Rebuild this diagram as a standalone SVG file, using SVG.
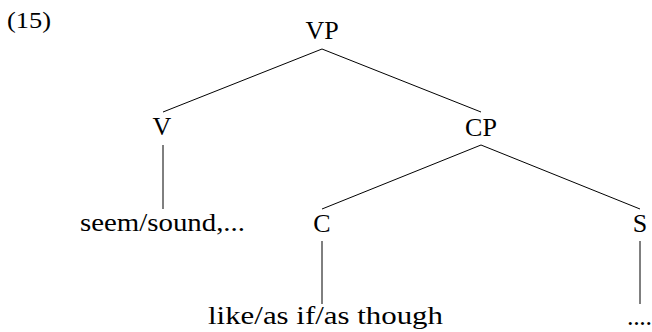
<svg xmlns="http://www.w3.org/2000/svg" width="652" height="332" viewBox="0 0 652 332">
<style>
.t{font-family:'Liberation Serif',serif;font-size:26px;fill:#000;text-anchor:middle}
.e line{stroke:#000;stroke-width:1}
</style>
<rect width="652" height="332" fill="#fff"/>
<g font-family="Liberation Serif, serif">
<text class="t" x="7" y="28" style="text-anchor:start;font-size:24px" textLength="44" lengthAdjust="spacingAndGlyphs">(15)</text>
<g class="e" id="connectors">
<line x1="322" y1="49" x2="163" y2="112"/>
<line x1="322" y1="49" x2="481" y2="112"/>
<line x1="163" y1="145" x2="163" y2="209"/>
<line x1="481" y1="145" x2="322" y2="209"/>
<line x1="481" y1="145" x2="640" y2="209"/>
<line x1="322" y1="241" x2="322" y2="304"/>
<line x1="640" y1="241" x2="640" y2="304"/>
</g>
<g id="VP"><text class="t" x="322" y="39">VP</text></g>
<g id="V"><text class="t" x="162" y="135">V</text></g>
<g id="CP"><text class="t" x="481" y="136">CP</text></g>
<g id="seem"><text class="t" x="80" y="231" style="text-anchor:start" textLength="165" lengthAdjust="spacingAndGlyphs">seem/sound,...</text></g>
<g id="C"><text class="t" x="322" y="232">C</text></g>
<g id="S"><text class="t" x="640" y="232">S</text></g>
<g id="like"><text class="t" x="208" y="324" style="text-anchor:start" textLength="235" lengthAdjust="spacingAndGlyphs">like/as if/as though</text></g>
<g id="dots"><text class="t" x="627" y="325" style="text-anchor:start" textLength="25" lengthAdjust="spacing">....</text></g>
</g>
</svg>
